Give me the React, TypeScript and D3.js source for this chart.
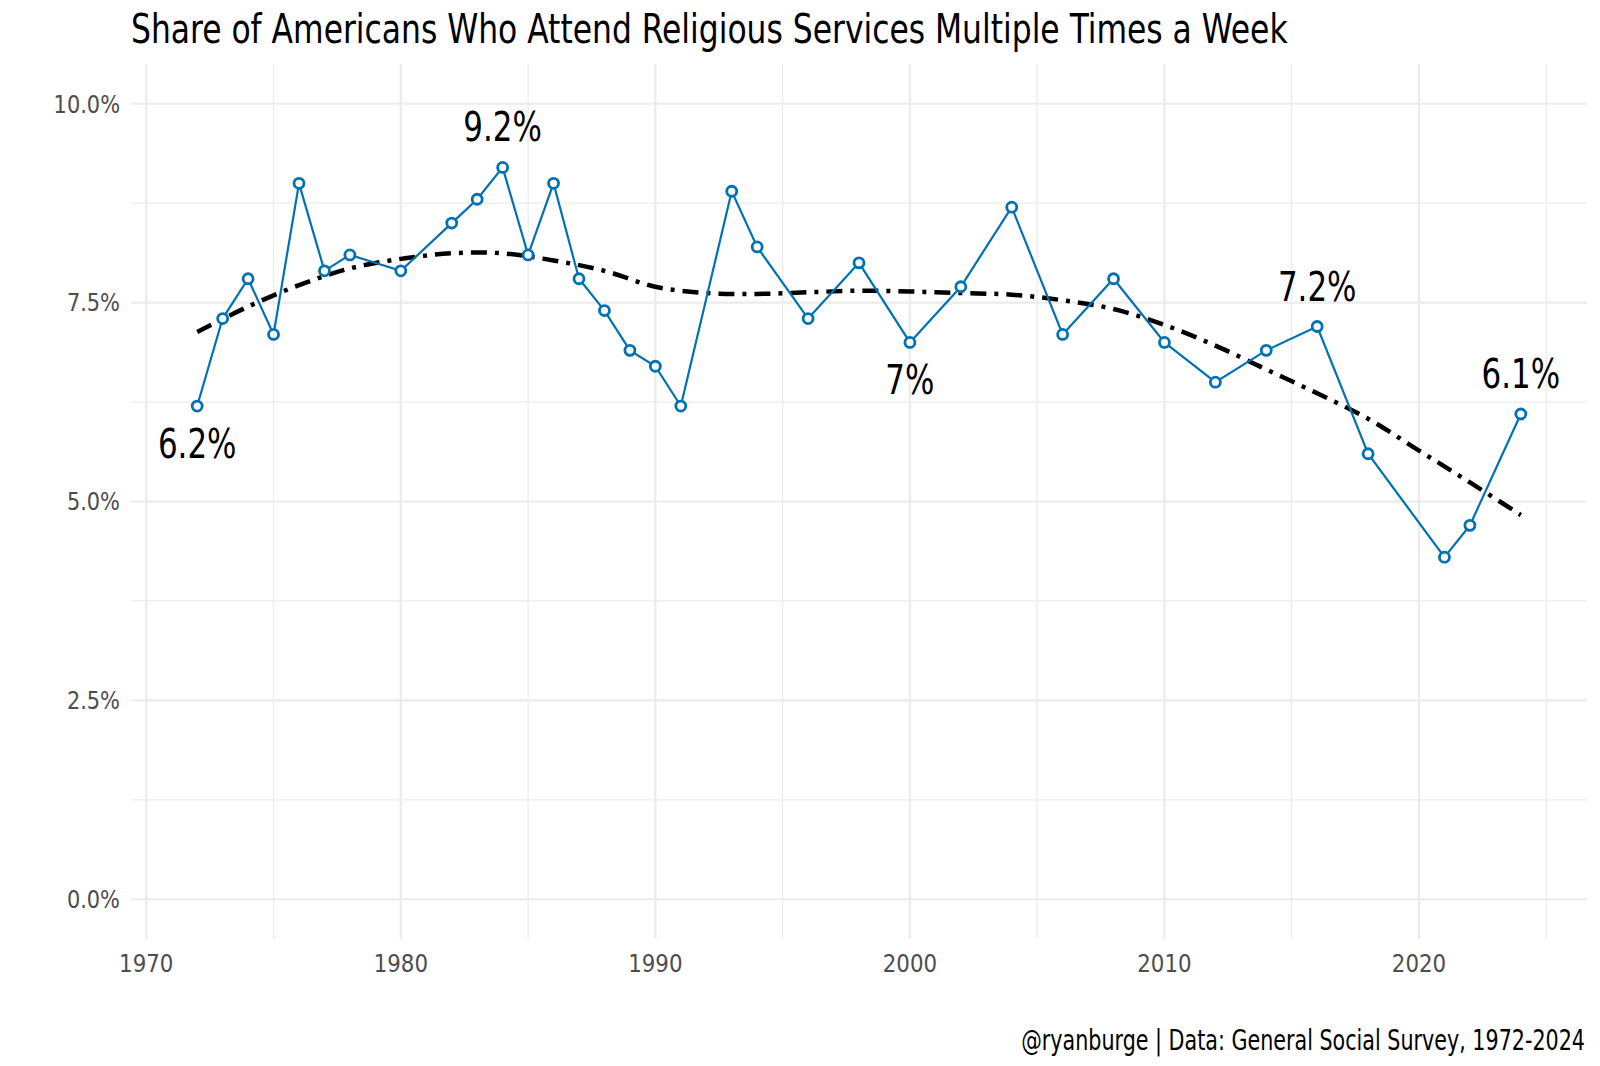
import React, { useLayoutEffect, useRef } from 'react';
import * as d3 from 'd3';

// survey years and the share attending multiple times a week (%)
const years = [1972, 1973, 1974, 1975, 1976, 1977, 1978, 1980, 1982, 1983, 1984, 1985, 1986, 1987, 1988, 1989, 1990, 1991, 1993, 1994, 1996, 1998, 2000, 2002, 2004, 2006, 2008, 2010, 2012, 2014, 2016, 2018, 2021, 2022, 2024];
const shares = [6.2, 7.3, 7.8, 7.1, 9.0, 7.9, 8.1, 7.9, 8.5, 8.8, 9.2, 8.1, 9.0, 7.8, 7.4, 6.9, 6.7, 6.2, 8.9, 8.2, 7.3, 8.0, 7.0, 7.7, 8.7, 7.1, 7.8, 7.0, 6.5, 6.9, 7.2, 5.6, 4.3, 4.7, 6.1];

// smoothed trend
const trendYears = [1972, 1974, 1976, 1978, 1980, 1982, 1984, 1986, 1988, 1990, 1992, 1994, 1996, 1998, 2000, 2002, 2004, 2006, 2008, 2010, 2012, 2014, 2016, 2018, 2020, 2022, 2024];
const trendShares = [7.13, 7.45, 7.72, 7.93, 8.05, 8.12, 8.12, 8.03, 7.9, 7.7, 7.62, 7.61, 7.63, 7.65, 7.64, 7.62, 7.6, 7.53, 7.42, 7.22, 6.96, 6.66, 6.36, 6.04, 5.64, 5.24, 4.83];

// labelled points
const labelYears = [1972, 1984, 2000, 2016, 2024];
const labelTexts = ['6.2%', '9.2%', '7%', '7.2%', '6.1%'];
const labelAbove = [false, true, false, true, true];

const xMajor = [1970, 1980, 1990, 2000, 2010, 2020];
const xMinor = [1975, 1985, 1995, 2005, 2015, 2025];
const yMajor = [0, 2.5, 5, 7.5, 10];
const yMinor = [1.25, 3.75, 6.25, 8.75];

const title = 'Share of Americans Who Attend Religious Services Multiple Times a Week';
const caption = '@ryanburge | Data: General Social Survey, 1972-2024';

const W = 1600;
const H = 1066;
const FONT = '"DejaVu Sans Condensed", "DejaVu Sans", sans-serif';
const BLUE = '#0072B2';

// text squeezed horizontally (the original uses a narrow font)
const NarrowText: React.FC<{
  x: number; y: number; size: number; anchor?: string; fill?: string;
  width?: number; squeeze?: number; dy?: string; children: string;
}> = ({ x, y, size, anchor = 'start', fill = '#000', width, squeeze = 1, dy, children }) => {
  const ref = useRef<SVGTextElement>(null);
  useLayoutEffect(() => {
    const el = ref.current;
    if (!el) return;
    let k = squeeze;
    if (width) {
      const len = el.getComputedTextLength();
      if (len > 0) k = width / len;
    }
    el.setAttribute('transform', `translate(${x},${y}) scale(${k},1)`);
  }, [x, y, width, squeeze, children]);
  return (
    <text ref={ref} x={0} y={0} dy={dy} fontFamily={FONT} fontSize={size} fill={fill}
      textAnchor={anchor} transform={`translate(${x},${y}) scale(${squeeze},1)`}>
      {children}
    </text>
  );
};

const App: React.FC = () => {
  const x = d3.scaleLinear().domain([1969.4, 2026.6]).range([131, 1587]);
  const y = d3.scaleLinear().domain([-0.5, 10.5]).range([939, 64]);

  const line = d3.line<number>()
    .x((_, i) => x(years[i]))
    .y(d => y(d));

  const trend = d3.line<number>()
    .x((_, i) => x(trendYears[i]))
    .y(d => y(d))
    .curve(d3.curveCatmullRom);

  return (
    <svg width={W} height={H} style={{ position: 'absolute', left: 0, top: 0, background: '#fff' }}>
      <rect width={W} height={H} fill="#fff" />
      {/* grid */}
      <g>
        {yMinor.map(v => (
          <line key={'ym' + v} x1={x.range()[0]} x2={x.range()[1]} y1={y(v)} y2={y(v)} stroke="#ebebeb" strokeWidth={1.2} />
        ))}
        {xMinor.map(v => (
          <line key={'xm' + v} x1={x(v)} x2={x(v)} y1={y.range()[0]} y2={y.range()[1]} stroke="#ebebeb" strokeWidth={1.2} />
        ))}
        {yMajor.map(v => (
          <line key={'yM' + v} x1={x.range()[0]} x2={x.range()[1]} y1={y(v)} y2={y(v)} stroke="#ebebeb" strokeWidth={2.2} />
        ))}
        {xMajor.map(v => (
          <line key={'xM' + v} x1={x(v)} x2={x(v)} y1={y.range()[0]} y2={y.range()[1]} stroke="#ebebeb" strokeWidth={2.2} />
        ))}
      </g>
      {/* axis labels */}
      {yMajor.map(v => (
        <NarrowText key={'yl' + v} x={120} y={y(v)} dy="0.35em" size={25} anchor="end" fill="#4d4d4d" squeeze={0.93}>
          {d3.format('.1f')(v) + '%'}
        </NarrowText>
      ))}
      {xMajor.map(v => (
        <NarrowText key={'xl' + v} x={x(v)} y={972} size={25} anchor="middle" fill="#4d4d4d" squeeze={0.95}>
          {String(v)}
        </NarrowText>
      ))}
      {/* trend */}
      <path d={trend(trendShares) ?? ''} fill="none" stroke="#000" strokeWidth={4.5} strokeDasharray="16 8 4 8" />
      {/* series */}
      <path d={line(shares) ?? ''} fill="none" stroke={BLUE} strokeWidth={2.2} />
      {shares.map((v, i) => (
        <circle key={'p' + years[i]} cx={x(years[i])} cy={y(v)} r={5} fill="#fff" stroke={BLUE} strokeWidth={2.8} />
      ))}
      {/* point labels */}
      {labelYears.map((yr, k) => {
        const v = shares[years.indexOf(yr)];
        return (
          <NarrowText key={'lab' + yr} x={x(yr)} y={y(v) + (labelAbove[k] ? -26 : 52)} size={40} anchor="middle" squeeze={0.86}>
            {labelTexts[k]}
          </NarrowText>
        );
      })}
      <NarrowText x={131} y={43} size={40} width={1157}>{title}</NarrowText>
      <NarrowText x={1585} y={1050} size={29} anchor="end" width={564}>{caption}</NarrowText>
    </svg>
  );
};

export default App;
